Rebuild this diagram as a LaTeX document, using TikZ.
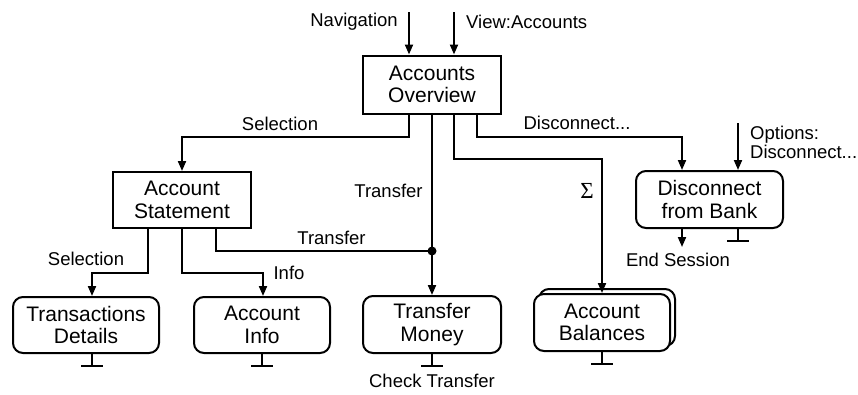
\documentclass[tikz,border=0pt]{standalone}
\usepackage{fontspec}
\setmainfont{Liberation Sans}
\newfontfamily\sigmafont{Liberation Serif}
\usetikzlibrary{arrows.meta,calc}
\begin{document}
\begin{tikzpicture}[x=1pt,y=-1pt,
  lw/.style={line width=2pt},
  arr/.style={lw,-{Triangle[length=10pt,width=8pt]}},
  sqbox/.style={draw,lw,align=center,inner sep=0pt,font=\fontsize{21}{22.5}\selectfont,fill=white},
  rbox/.style={sqbox,rounded corners=10pt},
  lbl/.style={font=\fontsize{18.5}{19}\selectfont,inner sep=0pt}]
\useasboundingbox (0,0) rectangle (858,394);

% boxes
\node[sqbox,minimum width=138pt,minimum height=58pt] (ov) at (432,84.5) {Accounts\\Overview};
\node[sqbox,minimum width=138pt,minimum height=56pt] (st) at (182,200) {Account\\Statement};
\node[rbox,minimum width=146pt,minimum height=56pt] (td) at (86,325) {Transactions\\Details};
\node[rbox,minimum width=136pt,minimum height=56pt] (ai) at (262,325) {Account\\Info};
\node[rbox,minimum width=138pt,minimum height=57pt] (tm) at (432,324.5) {Transfer\\Money};
\node[rbox,minimum width=136pt,minimum height=57pt] (abk) at (607,317.5) {};
\node[rbox,minimum width=136pt,minimum height=57pt] (ab) at (602,322.5) {Account\\Balances};
\node[rbox,minimum width=147pt,minimum height=57pt] (db) at (709.5,199.5) {Disconnect\\from Bank};

% entry arrows
\coordinate (nav) at (409,12);
\coordinate (view) at (454,12);
\coordinate (opt) at (738,123);
\draw[arr] (nav) -- (nav |- ov.north);
\draw[arr] (view) -- (view |- ov.north);
\draw[arr] (opt) -- (opt |- db.north);
\node[lbl,anchor=east] (navl) at (398,22) {Navigation};
\node[lbl,anchor=west] (viewl) at (466,22) {View:Accounts};
\node[lbl,anchor=west,align=left,font=\fontsize{18.5}{19}\selectfont] (optl) at (750,142.5) {Options:\\Disconnect...};

% from overview
\draw[arr] ([xshift=-23pt]ov.south) |- (st.north |- 0,137) -- (st.north);
\node[lbl] (sell) at (280,124) {Selection};
\draw[arr] (ov.south) -- (tm.north);
\node[lbl] (trl) at (388.5,191) {Transfer};
\draw[arr] ([xshift=22pt]ov.south) |- (ab.north |- 0,159) -- (ab.north);
\node[lbl,font=\sigmafont\fontsize{23}{23}\selectfont] (sigl) at (587,191) {Σ};
\coordinate (dbin) at (682,137);
\draw[arr] ([xshift=45pt]ov.south) |- (dbin) -- (dbin |- db.north);
\node[lbl] (dcl) at (577,123) {Disconnect...};

% from statement
\coordinate (dot) at (432,251);
\draw[arr] ([xshift=-34pt]st.south) |- (92,273) -- (92,0 |- td.north);
\node[lbl] (sel2) at (86,259) {Selection};
\draw[arr] (st.south) |- (263,273) -- (263,0 |- ai.north);
\node[lbl] (infol) at (289,273) {Info};
\draw[lw] ([xshift=34pt]st.south) |- (dot);
\fill (dot) circle (4.5pt);
\node[lbl] (tr2) at (331.5,238) {Transfer};

% end session
\coordinate (es) at (682,247);
\draw[arr] (es |- db.south) -- (es);
\node[lbl] (esl) at (678,260) {End Session};
\node[lbl] (ctl) at (432,381) {Check Transfer};

% stop bars
\foreach \n/\x in {td/92,ai/262,tm/432,ab/602,db/738}{
  \draw[lw] (\x,0 |- \n.south) -- ++(0,12) coordinate (b\n);
  \draw[lw] ([xshift=-11pt]b\n) -- ([xshift=11pt]b\n);
}
\end{tikzpicture}
\end{document}
